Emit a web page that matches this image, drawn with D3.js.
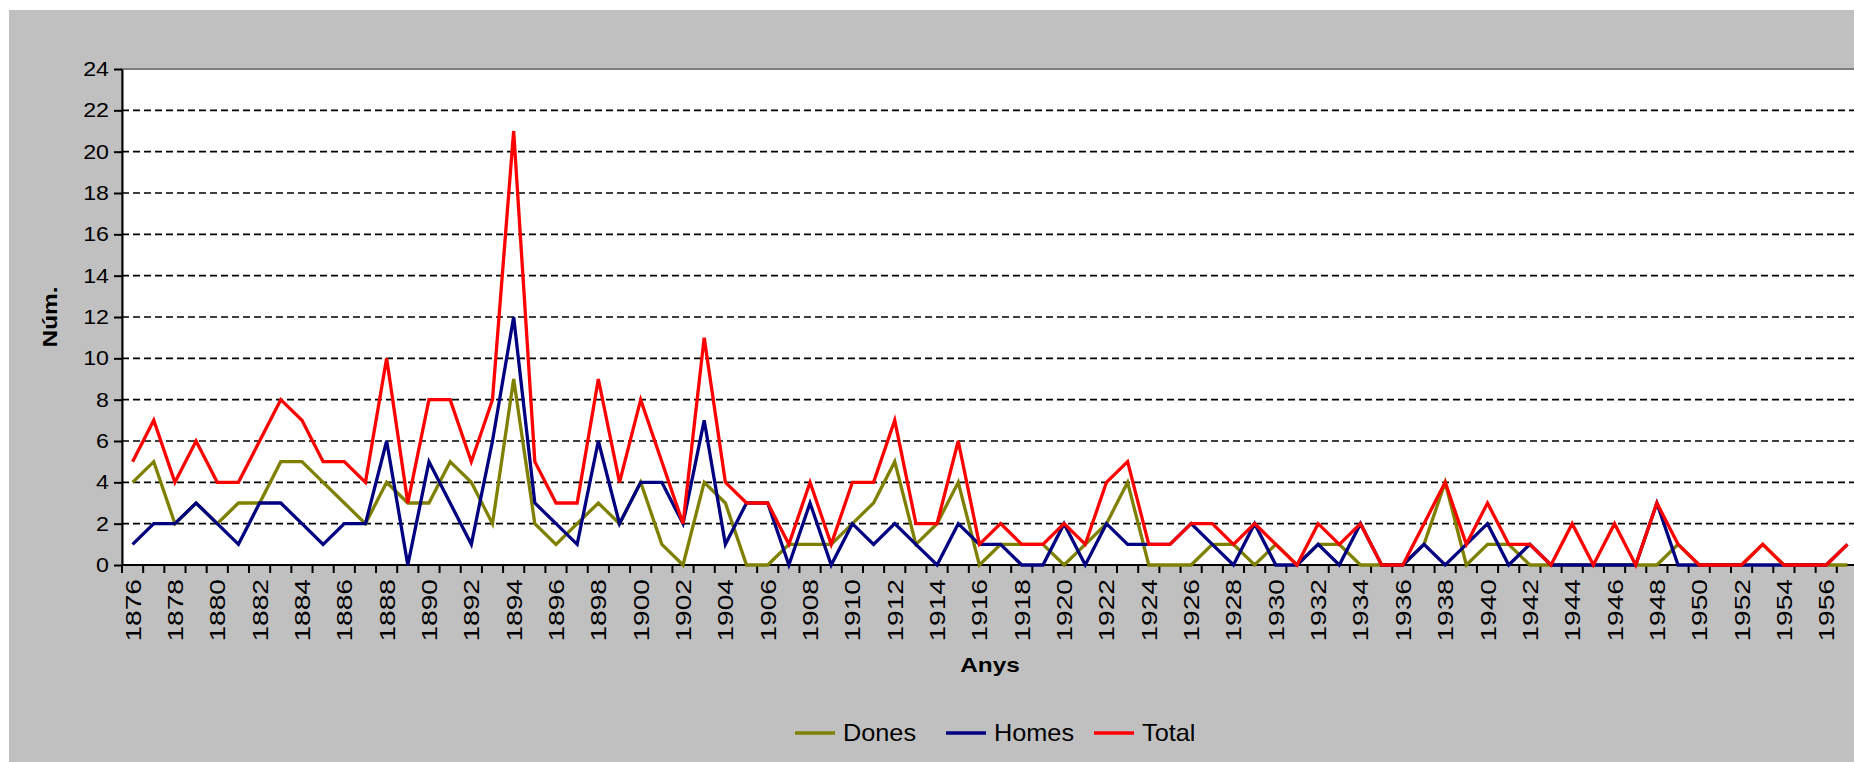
<!DOCTYPE html>
<html>
<head>
<meta charset="utf-8">
<script src="https://cdn.jsdelivr.net/npm/d3@7/dist/d3.min.js"></script>
<style>
  html, body { margin: 0; padding: 0; background: #fff; }
  svg { display: block; font-family: "Liberation Sans", Arial, sans-serif; }
</style>
</head>
<body>
<div id="container"></div>
<script>
// years on the category axis
const years = d3.range(1876, 1958);

// series, one value per year 1876..1957
const dones = [4, 5, 2, 3, 2, 3, 3, 5, 5, 4, 3, 2, 4, 3, 3, 5, 4, 2, 9, 2,
  1, 2, 3, 2, 4, 1, 0, 4, 3, 0, 0, 1, 1, 1, 2, 3, 5, 1, 2, 4,
  0, 1, 1, 1, 0, 1, 2, 4, 0, 0, 0, 1, 1, 0, 1, 0, 1, 1, 0, 0,
  0, 1, 4, 0, 1, 1, 0, 0, 0, 0, 0, 0, 0, 1, 0, 0, 0, 1, 0, 0,
  0, 0];
const homes = [1, 2, 2, 3, 2, 1, 3, 3, 2, 1, 2, 2, 6, 0, 5, 3, 1, 6, 12, 3,
  2, 1, 6, 2, 4, 4, 2, 7, 1, 3, 3, 0, 3, 0, 2, 1, 2, 1, 0, 2,
  1, 1, 0, 0, 2, 0, 2, 1, 1, 1, 2, 1, 0, 2, 0, 0, 1, 0, 2, 0,
  0, 1, 0, 1, 2, 0, 1, 0, 0, 0, 0, 0, 3, 0, 0, 0, 0, 0, 0, 0,
  0, 1];
const total = [5, 7, 4, 6, 4, 4, 6, 8, 7, 5, 5, 4, 10, 3, 8, 8, 5, 8, 21, 5,
  3, 3, 9, 4, 8, 5, 2, 11, 4, 3, 3, 1, 4, 1, 4, 4, 7, 2, 2, 6,
  1, 2, 1, 1, 2, 1, 4, 5, 1, 1, 2, 2, 1, 2, 1, 0, 2, 1, 2, 0,
  0, 2, 4, 1, 3, 1, 1, 0, 2, 0, 2, 0, 3, 1, 0, 0, 0, 1, 0, 0,
  0, 1];

const seriesNames = ['Dones', 'Homes', 'Total'];
const seriesColors = ['#808000', '#000080', '#ff0000'];
const yTicks = d3.range(0, 25, 2);

const width = 1854;
const height = 762;
const plot = { left: 122, top: 69, bottom: 565, right: 1858 };
const stretch = 1.16; // the reference glyphs are a bit wide

const svg = d3.select('#container').append('svg')
  .attr('width', width)
  .attr('height', height);

// chart area
svg.append('rect')
  .attr('x', 9).attr('y', 10)
  .attr('width', width - 9).attr('height', height - 10)
  .attr('fill', '#c0c0c0');

// plot area
svg.append('rect')
  .attr('x', plot.left).attr('y', plot.top)
  .attr('width', plot.right - plot.left).attr('height', plot.bottom - plot.top)
  .attr('fill', '#fff')
  .attr('stroke', '#808080')
  .attr('stroke-width', 2);

const x = d3.scaleBand().domain(years).range([plot.left, plot.right]).padding(0);
const xc = (yr) => x(yr) + x.bandwidth() / 2;
const y = d3.scaleLinear().domain([0, 24]).range([plot.bottom, plot.top]);

// dashed gridlines
svg.append('g')
  .selectAll('line')
  .data(yTicks.filter((v) => v > 0 && v < 24))
  .join('line')
  .attr('x1', plot.left).attr('x2', plot.right)
  .attr('y1', (d) => y(d)).attr('y2', (d) => y(d))
  .attr('stroke', '#000')
  .attr('stroke-width', 1.6)
  .attr('stroke-dasharray', '7,4');

// y axis
const yAxis = svg.append('g')
  .attr('transform', `translate(${plot.left},0)`)
  .call(d3.axisLeft(y).tickValues(yTicks).tickSize(8).tickPadding(5).tickSizeOuter(0));
yAxis.select('.domain').attr('stroke', '#000').attr('stroke-width', 2);
yAxis.selectAll('.tick line').attr('stroke', '#000').attr('stroke-width', 2);
yAxis.selectAll('.tick text')
  .attr('x', null)
  .attr('transform', `translate(-13,0) scale(${stretch},1)`)
  .attr('font-size', 20)
  .attr('fill', '#000');

// x axis: ticks between categories, labels every other year
const xAxis = svg.append('g').attr('transform', `translate(0,${plot.bottom})`);
xAxis.append('line')
  .attr('x1', plot.left).attr('x2', plot.right)
  .attr('stroke', '#000').attr('stroke-width', 2);
xAxis.selectAll('line.tk')
  .data(years)
  .join('line')
  .attr('class', 'tk')
  .attr('x1', (d) => x(d)).attr('x2', (d) => x(d))
  .attr('y1', 0).attr('y2', 8)
  .attr('stroke', '#000').attr('stroke-width', 2);
xAxis.selectAll('text')
  .data(years.filter((d) => d % 2 === 0))
  .join('text')
  .attr('transform', (d) => `translate(${xc(d) + 8},14) rotate(-90) scale(1.28,1)`)
  .attr('text-anchor', 'end')
  .attr('font-size', 22)
  .attr('fill', '#000')
  .text((d) => d);

// axis titles
svg.append('text')
  .attr('transform', `translate(57,${(plot.top + plot.bottom) / 2}) rotate(-90) scale(${stretch},1)`)
  .attr('text-anchor', 'middle')
  .attr('font-size', 21)
  .attr('font-weight', 'bold')
  .text('Núm.');
svg.append('text')
  .attr('transform', `translate(${(plot.left + plot.right) / 2},672) scale(${stretch},1)`)
  .attr('text-anchor', 'middle')
  .attr('font-size', 21)
  .attr('font-weight', 'bold')
  .text('Anys');

// lines
const allSeries = [dones, homes, total];
const line = d3.line()
  .x((d, i) => xc(years[i]))
  .y((d) => y(d));
svg.append('g')
  .selectAll('path')
  .data(allSeries)
  .join('path')
  .attr('d', (d) => line(d))
  .attr('fill', 'none')
  .attr('stroke', (d, i) => seriesColors[i])
  .attr('stroke-width', 3.3)
  .attr('stroke-linejoin', 'miter');

// legend
const legendX = [795, 946, 1094];
const legend = svg.append('g')
  .selectAll('g')
  .data(seriesNames)
  .join('g')
  .attr('transform', (d, i) => `translate(${legendX[i]},733)`);
legend.append('line')
  .attr('x1', 0).attr('x2', 40)
  .attr('stroke', (d, i) => seriesColors[i])
  .attr('stroke-width', 3.3);
legend.append('text')
  .attr('x', 0).attr('y', 8)
  .attr('transform', `translate(48,0) scale(1.1,1)`)
  .attr('font-size', 23)
  .attr('fill', '#000')
  .text((d) => d);
</script>
</body>
</html>
